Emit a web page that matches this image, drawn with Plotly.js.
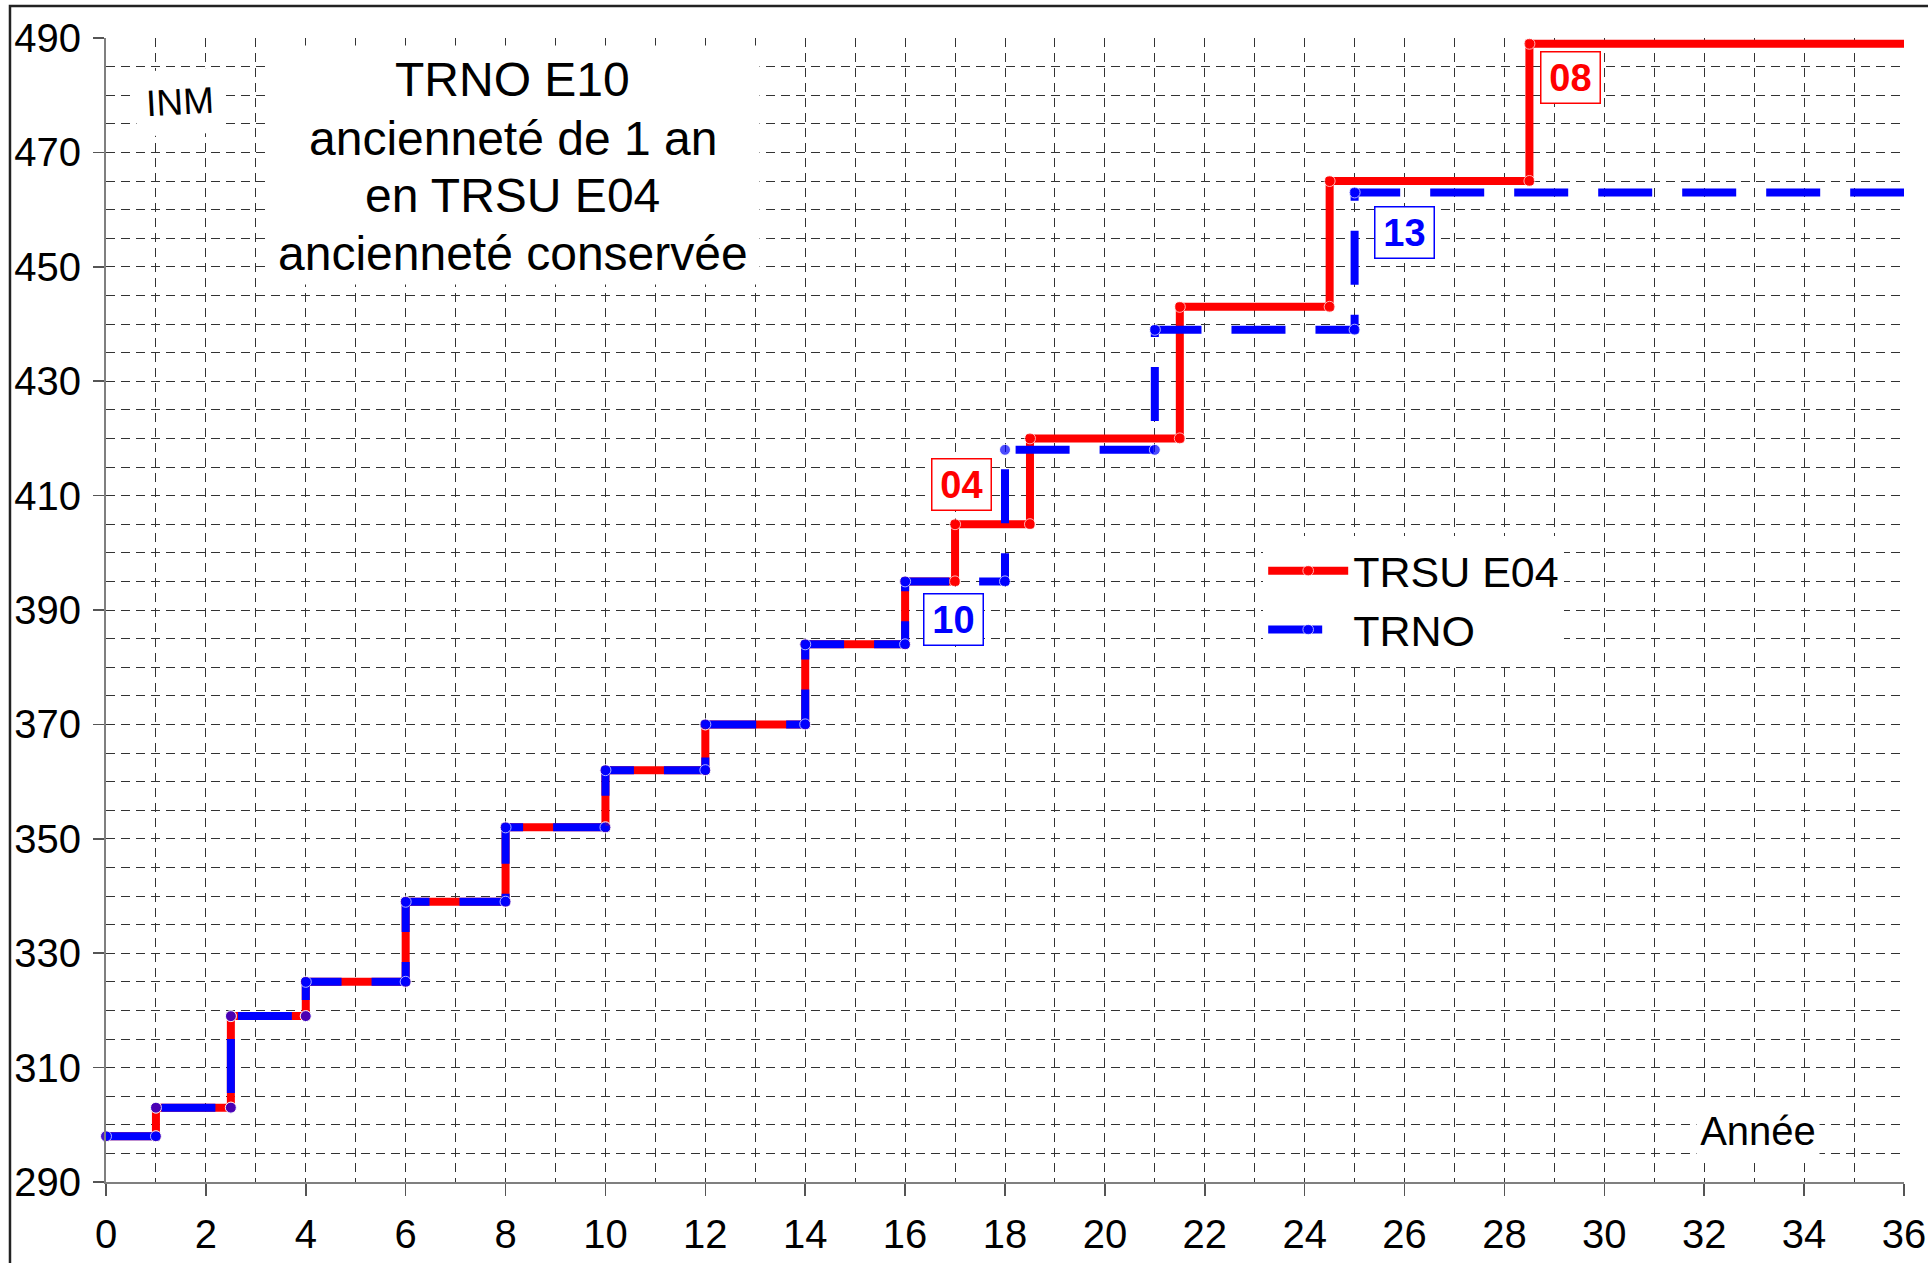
<!DOCTYPE html>
<html>
<head>
<meta charset="utf-8">
<script src="https://cdn.plot.ly/plotly-3.0.1.min.js"></script>
<style>
  html, body { margin: 0; padding: 0; background: #ffffff; }
  #chart { width: 1928px; height: 1263px; }
</style>
</head>
<body>
<div id="chart"></div>
<script>
// Step vertices (années, INM)
const trsuYears = [0, 1, 1, 2.5, 2.5, 4, 4, 6, 6, 8, 8, 10, 10, 12, 12, 14, 14, 16, 16, 17, 17, 18.5, 18.5, 21.5, 21.5, 24.5, 24.5, 28.5, 28.5, 36];
const trsuINM   = [298, 298, 303, 303, 319, 319, 325, 325, 339, 339, 352, 352, 362, 362, 370, 370, 384, 384, 395, 395, 405, 405, 420, 420, 443, 443, 465, 465, 489, 489];

const trnoYears = [0, 1, 1, 2.5, 2.5, 4, 4, 6, 6, 8, 8, 10, 10, 12, 12, 14, 14, 16, 16, 18, 18, 21, 21, 25, 25, 36];
const trnoINM   = [298, 298, 303, 303, 319, 319, 325, 325, 339, 339, 352, 352, 362, 362, 370, 370, 384, 384, 395, 395, 418, 418, 439, 439, 463, 463];

const seriesNames = ["TRSU E04", "TRNO"];

// Echelon labels
const stepLabels = ["04", "10", "13", "08"];
const stepLabelX = [17.12, 16.97, 25.99, 29.33];
const stepLabelY = [411.9, 388.3, 456.0, 483.1];
const stepLabelSeries = [0, 1, 1, 0];

const titleLines = ["TRNO E10", "ancienneté de 1 an", "en TRSU E04", "ancienneté conservée"];
const titleLineY = [482.8, 472.5, 462.4, 452.4];
const yAxisLabel = "INM";
const xAxisLabel = "Année";

const RED = "#FF0000", BLUE = "#0000FF";
const FONT = "Liberation Sans, Arial, sans-serif";
const GRID = "#333333";
const GRIDDASH = "9px,6px";

// markers at every vertex except the open end at the right edge
const markerSizes = (arr) => arr.map((v, i) => (i === arr.length - 1 ? 0 : 11));

const traces = [
  {
    x: trsuYears, y: trsuINM, name: seriesNames[0], type: "scatter", mode: "lines+markers",
    line: { color: RED, width: 8 }, marker: { color: RED, size: markerSizes(trsuYears) }, cliponaxis: false
  },
  {
    x: trnoYears, y: trnoINM, name: seriesNames[1], type: "scatter", mode: "lines+markers",
    line: { color: BLUE, width: 8, dash: "54px,30px" }, marker: { color: BLUE, size: markerSizes(trnoYears) }, cliponaxis: false
  }
];

const annotations = [];
stepLabels.forEach((t, i) => {
  const c = stepLabelSeries[i] === 0 ? RED : BLUE;
  annotations.push({
    x: stepLabelX[i], y: stepLabelY[i], xref: "x", yref: "y", showarrow: false,
    text: "<b>" + t + "</b>",
    font: { family: FONT, size: 38, color: c },
    bgcolor: "#ffffff", bordercolor: c, borderwidth: 1.5, borderpad: 2,
    width: 54, height: 46
  });
});
// white panel behind the title block
annotations.push({
  x: 8.14, y: 467.8, xref: "x", yref: "y", showarrow: false,
  text: " ", font: { family: FONT, size: 10 },
  bgcolor: "#ffffff", width: 490, height: 236
});
titleLines.forEach((t, i) => {
  annotations.push({
    x: 8.14, y: titleLineY[i], xref: "x", yref: "y", showarrow: false,
    text: t, font: { family: FONT, size: 48, color: "#000000" }
  });
});
annotations.push({
  x: 1.49, y: 478.8, xref: "x", yref: "y", showarrow: false, textangle: -3,
  text: yAxisLabel, font: { family: FONT, size: 37, color: "#000000" },
  bgcolor: "#ffffff", width: 86, height: 62
});
annotations.push({
  x: 33.07, y: 298.9, xref: "x", yref: "y", showarrow: false,
  text: xAxisLabel, font: { family: FONT, size: 40, color: "#000000" },
  bgcolor: "#ffffff", width: 120, height: 54
});

const layout = {
  width: 1928, height: 1263,
  margin: { l: 106, r: 24, t: 38, b: 81, pad: 0 },
  paper_bgcolor: "#ffffff", plot_bgcolor: "#ffffff",
  font: { family: FONT, size: 40, color: "#000000" },
  showlegend: true,
  legend: {
    x: 0.6436, y: 0.5645, xanchor: "left", yanchor: "top",
    bgcolor: "#ffffff", borderwidth: 0,
    font: { family: FONT, size: 43, color: "#000000" },
    itemwidth: 80
  },
  xaxis: {
    range: [0, 36], dtick: 2, tick0: 0,
    showgrid: true, gridcolor: GRID, gridwidth: 1, griddash: GRIDDASH,
    minor: { dtick: 1, showgrid: true, gridcolor: GRID, gridwidth: 1, griddash: GRIDDASH, ticks: "" },
    ticks: "outside", ticklen: 12, tickcolor: "#555555", tickwidth: 1.5,
    showline: true, linecolor: "#7f7f7f", linewidth: 2,
    zeroline: false, ticklabelstandoff: 4,
    tickfont: { family: FONT, size: 40, color: "#000000" }
  },
  yaxis: {
    range: [290, 490], dtick: 20, tick0: 290,
    showgrid: true, gridcolor: GRID, gridwidth: 1, griddash: GRIDDASH,
    minor: { dtick: 5, showgrid: true, gridcolor: GRID, gridwidth: 1, griddash: GRIDDASH, ticks: "" },
    ticks: "outside", ticklen: 11, tickcolor: "#555555", tickwidth: 1.5,
    showline: true, linecolor: "#7f7f7f", linewidth: 2,
    zeroline: false, ticklabelstandoff: 4,
    tickfont: { family: FONT, size: 40, color: "#000000" }
  },
  annotations: annotations,
  shapes: [
    { type: "rect", xref: "paper", yref: "paper", x0: -0.0534, x1: 1.05, y0: -0.1, y1: 1.028,
      line: { color: "#222222", width: 2.5 }, fillcolor: "rgba(0,0,0,0)", layer: "above" }
  ]
};

Plotly.newPlot("chart", traces, layout, { displayModeBar: false, staticPlot: true });
</script>
</body>
</html>
